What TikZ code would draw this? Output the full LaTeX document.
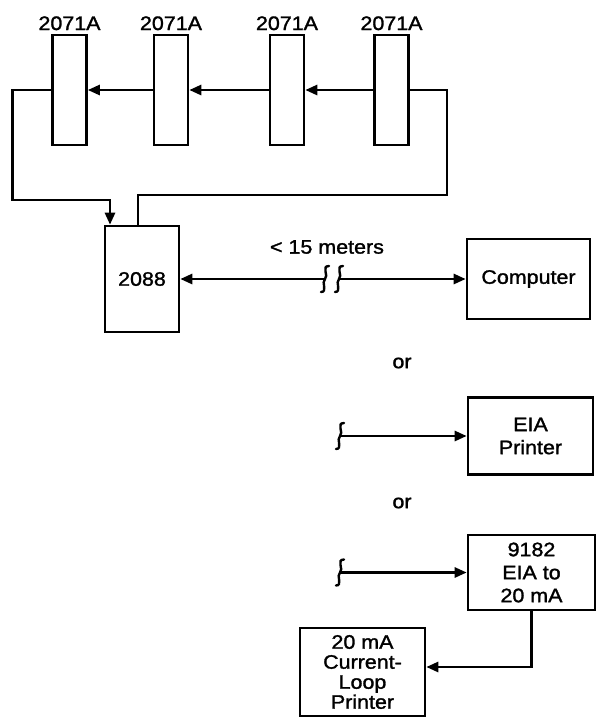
\documentclass[tikz,border=0pt]{standalone}
\usepackage{fontspec}
\setmainfont{Liberation Sans}[FakeStretch=1.1, FakeBold=1.5]
\usetikzlibrary{arrows.meta}

\begin{document}
\begin{tikzpicture}[x=1pt, y=-1pt, line width=2.6pt,
    unit/.style={draw, minimum width=34pt, minimum height=110pt, inner sep=0pt},
    dev/.style={draw, align=center, inner sep=0pt, font=\fontsize{19.5}{23}\selectfont},
    lbl/.style={font=\fontsize{19.5}{22}\selectfont},
    flow/.style={-{Triangle[length=12pt, width=10pt]}},
    squig/.pic={\draw[line width=2.4pt, line cap=round] (4,-13) .. controls (-4,-13) and (4,-3) .. (0,0) .. controls (-4,3) and (3,13) .. (-4,13);}]
    \useasboundingbox (0,0) rectangle (599,718);

    % the four 2071A units
    \foreach \i/\x in {1/69.5, 2/171, 3/287, 4/391.5}{
        \node[unit] (u\i) at (\x,90) {};
        \node[lbl, anchor=base] (t\i) at (\x,30) {2071A};
    }
    \draw[flow] (u4.west) -- (u3.east);
    \draw[flow] (u3.west) -- (u2.east);
    \draw[flow] (u2.west) -- (u1.east);

    % 2088 and the loop
    \node[dev, minimum width=74pt, minimum height=106pt] (hub) at (142,279) {2088};
    \draw[flow] (u1.west) -- ++(-39,0) -- ++(0,110) -| ([xshift=-32pt]hub.north);
    \draw ([xshift=-4pt]hub.north) |- (447,195) |- (u4.east);

    % computer link
    \node[dev, minimum width=123pt, minimum height=80pt] (pc) at (528.5,279) {Computer};
    \coordinate (cutL) at (325,279);
    \coordinate (cutR) at (339,279);
    \draw[flow] (cutL) -- (hub.east);
    \draw[flow] (cutR) -- (pc.west);
    \pic at (cutL) {squig};
    \pic at (cutR) {squig};
    \node[lbl] (dist) at (327,247) {< 15 meters};

    % EIA printer
    \node[lbl] (or1) at (402,363) {or};
    \node[dev, minimum width=125pt, minimum height=77pt] (eia) at (530.5,436) {EIA\\Printer};
    \coordinate (eiaIn) at (340,436);
    \draw[flow] (eiaIn) -- (eia.west);
    \pic at (eiaIn) {squig};

    % 9182 converter and current-loop printer
    \node[lbl] (or2) at (402,503) {or};
    \node[dev, minimum width=127pt, minimum height=75pt] (conv) at (531.5,572.5) {9182\\EIA to\\20 mA};
    \coordinate (convIn) at (340,572.5);
    \draw[flow] (convIn) -- (conv.west);
    \pic at (convIn) {squig};
    \node[dev, minimum width=125pt, minimum height=88pt, font=\fontsize{19.5}{20}\selectfont] (clp) at (362.5,672) {20 mA\\Current-\\Loop\\Printer};
    \draw[flow] (conv.south) |- ([yshift=5pt]clp.east);
\end{tikzpicture}
\end{document}
